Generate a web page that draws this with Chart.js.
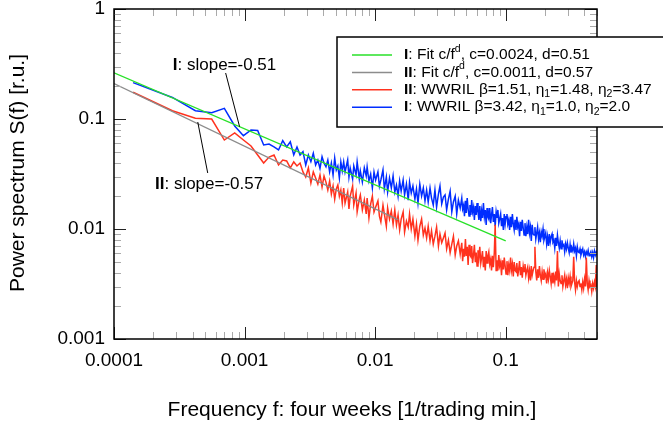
<!DOCTYPE html>
<html>
<head>
<meta charset="utf-8">
<script src="https://cdn.jsdelivr.net/npm/chart.js@4/dist/chart.umd.min.js"></script>
<style>
  html, body { margin: 0; padding: 0; background: #fff; }
</style>
</head>
<body>
<canvas id="chart" width="663" height="434"></canvas>
<script>
// frequency step of the periodogram [1/trading min.]
const df = 0.00014;

// harmonic numbers k (f = k * df) at which the spectra are sampled
const harmonics = [
  1, 2, 3, 4, 5, 6, 7, 8, 9, 10,
  11, 12, 13, 14, 15, 16, 17, 18, 19, 20,
  21, 22, 23, 24, 25, 26, 27, 28, 29, 30,
  31, 32, 33, 34, 35, 36, 37, 38, 39, 40,
  41, 42, 44, 45, 46, 48, 49, 51, 52, 54,
  55, 57, 59, 61, 62, 64, 66, 68, 70, 72,
  75, 77, 79, 82, 84, 87, 89, 92, 95, 98,
  101, 104, 107, 110, 113, 117, 120, 124, 128, 131,
  135, 139, 144, 148, 152, 157, 162, 167, 172, 177,
  182, 188, 193, 199, 205, 211, 218, 224, 231, 238,
  245, 252, 260, 268, 276, 284, 293, 301, 310, 320,
  329, 334, 340, 345, 351, 356, 362, 368, 374, 380,
  386, 392, 398, 405, 411, 418, 424, 431, 438, 445,
  452, 460, 467, 474, 482, 490, 498, 506, 514, 522,
  530, 539, 548, 556, 565, 574, 584, 593, 603, 612,
  622, 632, 642, 653, 663, 674, 685, 696, 707, 718,
  730, 741, 753, 765, 778, 790, 803, 816, 829, 842,
  856, 869, 883, 897, 912, 926, 941, 956, 972, 987,
  1003, 1019, 1036, 1052, 1069, 1086, 1104, 1121, 1139, 1158,
  1176, 1195, 1214, 1234, 1253, 1274, 1294, 1315, 1336, 1357,
  1379, 1401, 1424, 1446, 1470, 1493, 1517, 1541, 1566, 1591,
  1617, 1643, 1669, 1696, 1723, 1750, 1778, 1807, 1836, 1865,
  1895, 1926, 1956, 1988, 2020, 2052, 2085, 2118, 2152, 2187,
  2222, 2258, 2294, 2331, 2368, 2406, 2445, 2484, 2524, 2564,
  2605, 2647, 2690, 2733, 2777, 2821, 2867, 2913, 2959, 3007,
  3055, 3104, 3154, 3205, 3256, 3308, 3361, 3415, 3470, 3526,
  3570,
];

// I: WWRIL (blue)
const spectrumI = [
  0.214, 0.157, 0.119, 0.114, 0.125, 0.0864, 0.0705, 0.0794, 0.0786, 0.058,
  0.0592, 0.0557, 0.0523, 0.0635, 0.0557, 0.0621, 0.0471, 0.0557, 0.0471, 0.0505,
  0.0382, 0.0471, 0.0409, 0.0488, 0.0382, 0.0424, 0.0356, 0.0454, 0.0396, 0.0368,
  0.0424, 0.033, 0.0398, 0.031, 0.0442, 0.0344, 0.0374, 0.0291, 0.0407, 0.0337,
  0.0407, 0.033, 0.0424, 0.0297, 0.0359, 0.0285, 0.0374, 0.031, 0.0407, 0.0285,
  0.0337, 0.0267, 0.0359, 0.0303, 0.0366, 0.0273, 0.0316, 0.0236, 0.033, 0.0279,
  0.033, 0.0246, 0.0279, 0.0344, 0.0231, 0.0297, 0.0217, 0.0291, 0.0236, 0.0303,
  0.0217, 0.0251, 0.0199, 0.0273, 0.0221, 0.0279, 0.0204, 0.0256, 0.0183, 0.0267,
  0.0212, 0.0246, 0.0187, 0.0231, 0.0172, 0.0256, 0.0199, 0.0236, 0.018, 0.0226,
  0.0176, 0.0236, 0.0191, 0.0165, 0.0226, 0.0158, 0.0208, 0.0246, 0.0169, 0.0195,
  0.0204, 0.0149, 0.0187, 0.0221, 0.0143, 0.0176, 0.0199, 0.0137, 0.0183, 0.0155,
  0.0191, 0.0152, 0.0165, 0.0131, 0.018, 0.014, 0.0191, 0.0152, 0.0131, 0.0165,
  0.0134, 0.0183, 0.0143, 0.0158, 0.0121, 0.0162, 0.0134, 0.0172, 0.0143, 0.0121,
  0.0162, 0.0118, 0.0146, 0.0126, 0.0172, 0.0129, 0.0149, 0.0109, 0.0155, 0.0129,
  0.0123, 0.0155, 0.0113, 0.0134, 0.0158, 0.0116, 0.0137, 0.0106, 0.0143, 0.0126,
  0.0149, 0.0113, 0.0123, 0.0137, 0.0106, 0.0126, 0.0098, 0.0137, 0.0111, 0.0129,
  0.0137, 0.0111, 0.0121, 0.0098, 0.0129, 0.0104, 0.0137, 0.0111, 0.0098, 0.0121,
  0.0098, 0.0129, 0.0104, 0.0111, 0.0086, 0.0116, 0.0096, 0.0121, 0.0102, 0.0088,
  0.0113, 0.0086, 0.0104, 0.009, 0.0121, 0.0092, 0.0104, 0.0078, 0.0109, 0.009,
  0.0088, 0.0104, 0.0081, 0.0092, 0.0104, 0.0081, 0.0092, 0.0076, 0.0094, 0.0086,
  0.01, 0.0079, 0.0085, 0.0092, 0.0073, 0.0085, 0.007, 0.009, 0.0076, 0.0085,
  0.009, 0.0076, 0.0079, 0.0067, 0.0083, 0.007, 0.0088, 0.0075, 0.0067, 0.0078,
  0.0066, 0.0079, 0.007, 0.0072, 0.0062, 0.0073, 0.0066, 0.0075, 0.0067, 0.0061,
  0.0072, 0.0061, 0.0067, 0.0063, 0.0073, 0.0063, 0.0067, 0.0057, 0.0069, 0.0062,
  0.0061, 0.0066, 0.0058, 0.0062, 0.0066, 0.0058, 0.0062, 0.0056, 0.0062, 0.0059,
  0.0064, 0.0057, 0.0059, 0.0062, 0.0056, 0.0061, 0.0055, 0.0063, 0.0058, 0.0062,
  0.0059,
];

// II: WWRIL (red)
const spectrumII = [
  0.175, 0.119, 0.1015, 0.1, 0.0644, 0.0746, 0.0644, 0.0568, 0.0471, 0.0398,
  0.0451, 0.0471, 0.0382, 0.0424, 0.0415, 0.0359, 0.0407, 0.0374, 0.0398, 0.033,
  0.0297, 0.0359, 0.0262, 0.033, 0.0291, 0.0256, 0.031, 0.0241, 0.0303, 0.0267,
  0.0226, 0.0273, 0.0208, 0.0246, 0.0187, 0.0231, 0.0251, 0.0199, 0.0226, 0.0172,
  0.0236, 0.0172, 0.0217, 0.0152, 0.0199, 0.0246, 0.0165, 0.0212, 0.0143, 0.0187,
  0.0204, 0.0149, 0.0183, 0.0137, 0.0191, 0.0126, 0.0169, 0.0199, 0.0143, 0.0158,
  0.018, 0.0131, 0.0116, 0.0165, 0.0137, 0.0106, 0.0155, 0.0123, 0.0146, 0.0111,
  0.0149, 0.0109, 0.0134, 0.0098, 0.0123, 0.0143, 0.0094, 0.0118, 0.0104, 0.0137,
  0.01, 0.0123, 0.0086, 0.0111, 0.0079, 0.0106, 0.0123, 0.0088, 0.0102, 0.0083,
  0.0106, 0.0078, 0.0096, 0.0073, 0.0086, 0.0104, 0.007, 0.009, 0.0075, 0.0083,
  0.0092, 0.0066, 0.0079, 0.0061, 0.0073, 0.0086, 0.0058, 0.007, 0.0078, 0.0059,
  0.0075, 0.0051, 0.0066, 0.0056, 0.0081, 0.0057, 0.0069, 0.0047, 0.0072, 0.0058,
  0.0056, 0.007, 0.0049, 0.0059, 0.0072, 0.005, 0.0061, 0.0046, 0.0064, 0.0055,
  0.0069, 0.0049, 0.0055, 0.0063, 0.0045, 0.0056, 0.0042, 0.0063, 0.0049, 0.0057,
  0.0062, 0.0048, 0.0053, 0.0042, 0.0057, 0.0045, 0.0061, 0.0109, 0.0042, 0.0052,
  0.0042, 0.0058, 0.0046, 0.005, 0.0038, 0.0052, 0.0043, 0.0055, 0.0046, 0.0039,
  0.0051, 0.0038, 0.0047, 0.0042, 0.0055, 0.0042, 0.0048, 0.0037, 0.005, 0.0042,
  0.0041, 0.0049, 0.0037, 0.0043, 0.0051, 0.0038, 0.0045, 0.0036, 0.0046, 0.0041,
  0.0048, 0.0038, 0.0042, 0.0045, 0.0036, 0.0042, 0.0034, 0.0046, 0.0038, 0.0042,
  0.0045, 0.0069, 0.0041, 0.0034, 0.0043, 0.0036, 0.0046, 0.0038, 0.0034, 0.0041,
  0.0035, 0.0043, 0.0037, 0.0039, 0.0032, 0.004, 0.0035, 0.0042, 0.0037, 0.0032,
  0.004, 0.0032, 0.0037, 0.0033, 0.0041, 0.0034, 0.0063, 0.003, 0.0039, 0.0034,
  0.0032, 0.0038, 0.003, 0.0034, 0.0038, 0.0031, 0.0035, 0.0029, 0.0036, 0.0032,
  0.0037, 0.003, 0.0032, 0.0034, 0.0056, 0.0033, 0.0028, 0.0034, 0.003, 0.0033,
  0.0034, 0.003, 0.0032, 0.0028, 0.0033, 0.0029, 0.0035, 0.003, 0.0055, 0.0032,
  0.0028, 0.0034, 0.003, 0.0031, 0.0027, 0.0032, 0.0029, 0.0033, 0.003, 0.0047,
  0.0029,
];

// power-law fits, end points only
const fitIFreq = [0.0001, 0.1];
const fitIValue = [0.263, 0.0078];
const fitIIFreq = [0.0001, 0.015];
const fitIIValue = [0.21, 0.0121];

const xTickLabels = ["0.0001", "0.001", "0.01", "0.1"];
const yTickLabels = ["0.001", "0.01", "0.1", "1"];

const colors = {
  fitI: "rgb(40, 225, 40)",
  fitII: "rgb(140, 140, 140)",
  wwrilII: "rgb(255, 50, 30)",
  wwrilI: "rgb(0, 45, 255)",
};

// legend rows: [colour, text runs]; "b" bold, "sup"/"sub" small raised/lowered
const legendRows = [
  [colors.fitI, [["I", "b"], [": Fit c/f"], ["d", "sup"], [", c=0.0024, d=0.51"]]],
  [colors.fitII, [["II", "b"], [": Fit c/f"], ["d", "sup"], [", c=0.0011, d=0.57"]]],
  [colors.wwrilII, [["II", "b"], [": WWRIL \u03b2=1.51, \u03b7"], ["1", "sub"], ["=1.48, \u03b7"], ["2", "sub"], ["=3.47"]]],
  [colors.wwrilI, [["I", "b"], [": WWRIL \u03b2=3.42, \u03b7"], ["1", "sub"], ["=1.0, \u03b7"], ["2", "sub"], ["=2.0"]]],
];

// slope annotations: label anchor and pointer, in data coordinates
const notes = [
  { runs: [["I", "b"], [": slope=-0.51"]], at: [0.000282, 0.31], from: [0.000716, 0.262], to: [0.000916, 0.085] },
  { runs: [["II", "b"], [": slope=-0.57"]], at: [0.000206, 0.0256], from: [0.000522, 0.0323], to: [0.000438, 0.0939] },
];

const FONT = "'Liberation Sans', Arial, Helvetica, sans-serif";

function drawRuns(ctx, runs, x, y, size) {
  ctx.textBaseline = "middle";
  ctx.textAlign = "left";
  for (const [t, style] of runs) {
    let dy = 0;
    let s = size;
    if (style === "sup") { s = size * 0.68; dy = -size * 0.4; }
    if (style === "sub") { s = size * 0.68; dy = size * 0.3; }
    ctx.font = `${style === "b" ? "bold " : ""}${s}px ${FONT}`;
    ctx.fillText(t, x, y + dy);
    x += ctx.measureText(t).width;
  }
}

const decorations = {
  id: "decorations",
  afterDatasetsDraw(chart) {
    const { ctx, chartArea: a, scales: { x, y } } = chart;
    const seg = (x1, y1, x2, y2) => {
      ctx.beginPath();
      ctx.moveTo(x1, y1);
      ctx.lineTo(x2, y2);
      ctx.stroke();
    };
    ctx.save();

    // inward ticks on all four sides
    ctx.lineWidth = 1;
    for (let e = -4; e <= -1; e++) {
      for (let m = 1; m <= 9; m++) {
        const v = m * 10 ** e;
        if (v > x.max) continue;
        const px = Math.round(x.getPixelForValue(v)) + 0.5;
        const len = m === 1 ? 12 : 7;
        ctx.strokeStyle = m === 1 ? "#222" : "#aaa";
        seg(px, a.bottom, px, a.bottom - len);
        seg(px, a.top, px, a.top + len);
      }
    }
    for (let e = -3; e <= 0; e++) {
      for (let m = 1; m <= 9; m++) {
        const v = m * 10 ** e;
        if (v > y.max) continue;
        const py = Math.round(y.getPixelForValue(v)) + 0.5;
        const len = m === 1 ? 12 : 7;
        ctx.strokeStyle = m === 1 ? "#222" : "#aaa";
        seg(a.left, py, a.left + len, py);
        seg(a.right, py, a.right - len, py);
      }
    }

    // frame
    ctx.strokeStyle = "#000";
    ctx.lineWidth = 1.5;
    ctx.strokeRect(a.left, a.top, a.right - a.left, a.bottom - a.top);

    // slope annotations
    ctx.fillStyle = "#000";
    ctx.lineWidth = 1;
    for (const n of notes) {
      seg(x.getPixelForValue(n.from[0]), y.getPixelForValue(n.from[1]),
        x.getPixelForValue(n.to[0]), y.getPixelForValue(n.to[1]));
      drawRuns(ctx, n.runs, x.getPixelForValue(n.at[0]), y.getPixelForValue(n.at[1]), 17);
    }

    // legend box
    const box = { left: 337, top: 37, right: 665, bottom: 127 };
    ctx.fillStyle = "#fff";
    ctx.fillRect(box.left, box.top, box.right - box.left, box.bottom - box.top);
    ctx.strokeStyle = "#000";
    ctx.lineWidth = 1.5;
    ctx.strokeRect(box.left, box.top, box.right - box.left, box.bottom - box.top);
    legendRows.forEach(([color, runs], i) => {
      const ry = 55 + i * 17.4;
      ctx.strokeStyle = color;
      ctx.lineWidth = 1.5;
      seg(352, ry, 392, ry);
      ctx.fillStyle = "#000";
      drawRuns(ctx, runs, 404, ry, 15.5);
    });

    // axis titles
    ctx.fillStyle = "#000";
    ctx.font = `21px ${FONT}`;
    ctx.textAlign = "center";
    ctx.textBaseline = "middle";
    ctx.fillText("Frequency f: four weeks [1/trading min.]", 352, 410);
    ctx.translate(18, 173);
    ctx.rotate(-Math.PI / 2);
    ctx.fillText("Power spectrum S(f) [r.u.]", 0, 0);
    ctx.restore();
  },
};

const points = (xs, ys) => xs.map((v, i) => ({ x: v, y: ys[i] }));
const freqs = harmonics.map((k) => k * df);

new Chart(document.getElementById("chart"), {
  type: "scatter",
  plugins: [decorations],
  data: {
    datasets: [
      {
        label: "I: Fit c/f^d, c=0.0024, d=0.51",
        data: points(fitIFreq, fitIValue),
        borderColor: colors.fitI,
        borderWidth: 1.3,
        order: 0,
      },
      {
        label: "II: Fit c/f^d, c=0.0011, d=0.57",
        data: points(fitIIFreq, fitIIValue),
        borderColor: colors.fitII,
        borderWidth: 1.3,
        order: 1,
      },
      {
        label: "II: WWRIL",
        data: points(freqs, spectrumII),
        borderColor: colors.wwrilII,
        borderWidth: 1.5,
        order: 2,
      },
      {
        label: "I: WWRIL",
        data: points(freqs, spectrumI),
        borderColor: colors.wwrilI,
        borderWidth: 1.5,
        order: 3,
      },
    ],
  },
  options: {
    responsive: false,
    animation: false,
    devicePixelRatio: 1,
    showLine: true,
    elements: { point: { radius: 0 }, line: { tension: 0 } },
    layout: { padding: { top: 9, right: 66, left: 0, bottom: 0 } },
    plugins: { legend: { display: false }, tooltip: { enabled: false } },
    scales: {
      x: {
        type: "logarithmic",
        min: 0.0001,
        max: 0.5,
        grid: { display: false, drawTicks: false },
        border: { display: false },
        afterBuildTicks: (s) => { s.ticks = xTickLabels.map((l) => ({ value: Number(l) })); },
        afterFit: (s) => { s.height = 95; s.paddingLeft = 0; s.paddingRight = 0; },
        ticks: {
          autoSkip: false,
          maxRotation: 0,
          padding: 10,
          color: "#000",
          font: { family: FONT, size: 19 },
          callback: (v, i) => xTickLabels[i],
        },
      },
      y: {
        type: "logarithmic",
        min: 0.001,
        max: 1,
        grid: { display: false, drawTicks: false },
        border: { display: false },
        afterBuildTicks: (s) => { s.ticks = yTickLabels.map((l) => ({ value: Number(l) })); },
        afterFit: (s) => { s.width = 114; s.paddingTop = 0; s.paddingBottom = 0; },
        ticks: {
          autoSkip: false,
          padding: 9,
          color: "#000",
          font: { family: FONT, size: 19 },
          callback: (v, i) => yTickLabels[i],
        },
      },
    },
  },
});
</script>
</body>
</html>
